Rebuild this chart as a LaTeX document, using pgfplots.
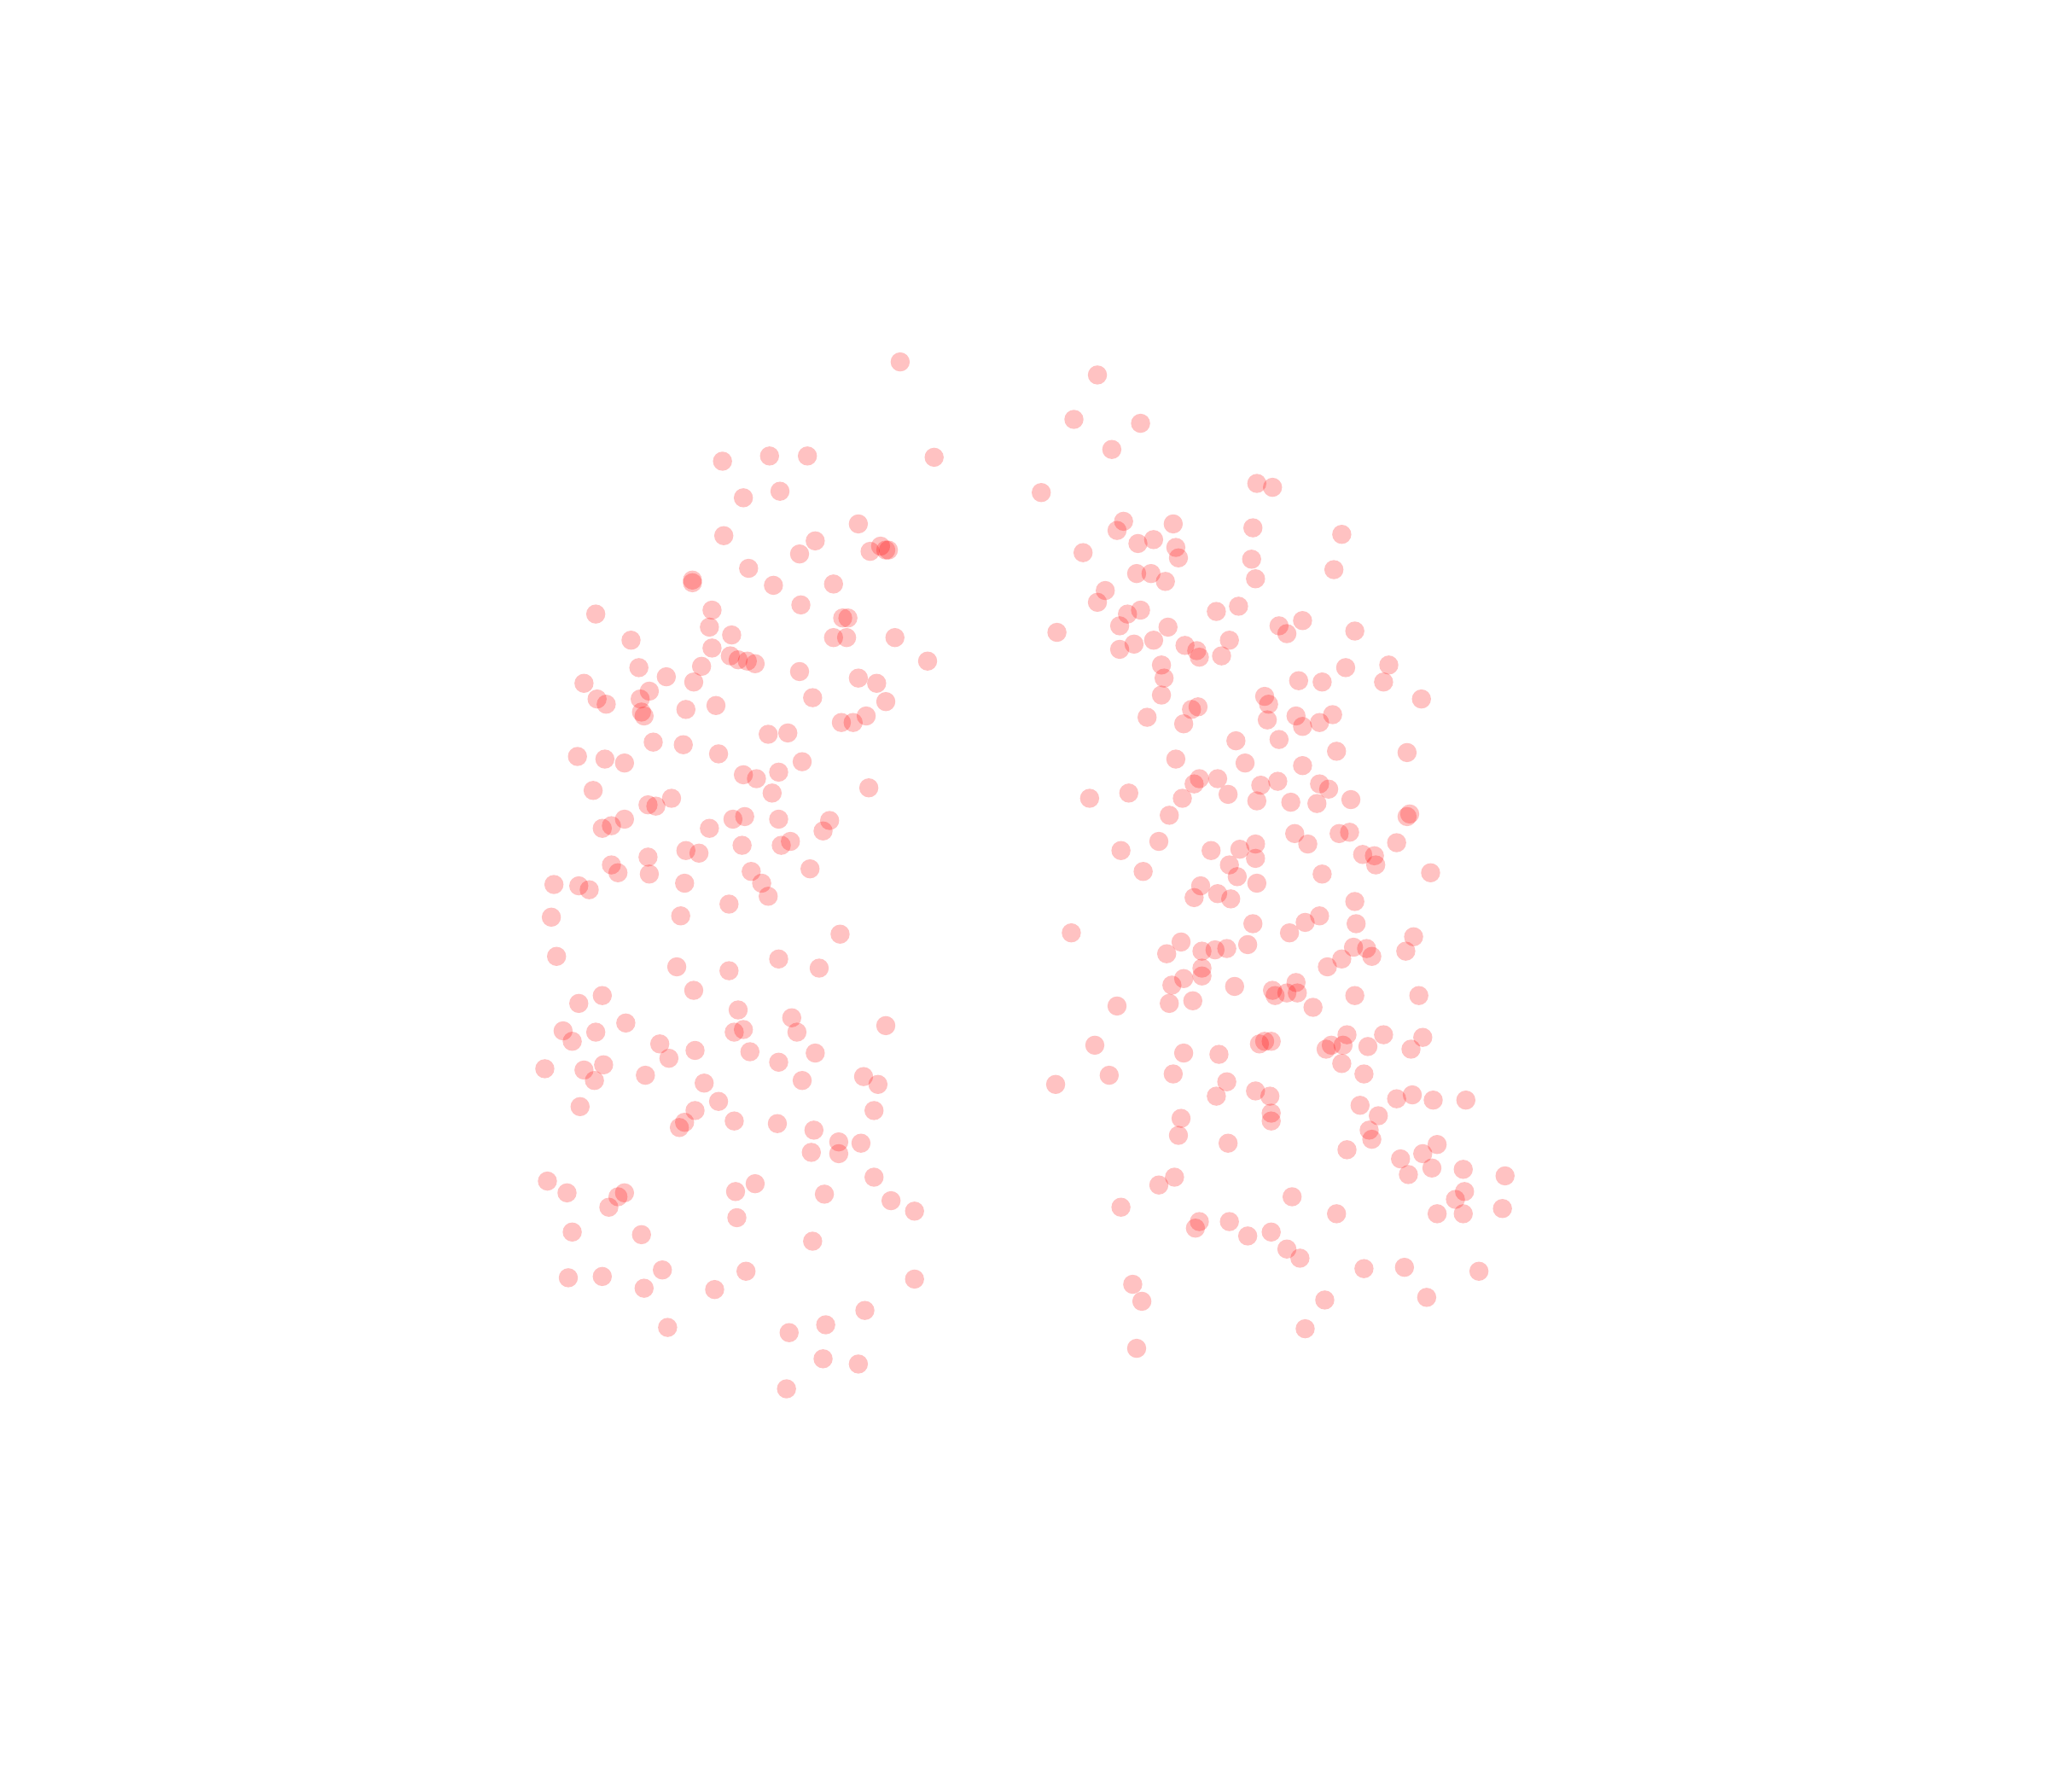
\documentclass[border=0pt]{standalone}
\usepackage{pgfplots}
\pgfplotsset{compat=1.18}
\usepackage{pgfplotstable}

% positions, in its own pixel grid (y grows downwards)
\pgfplotstableread{
x y
689 277
553 353
589 349
618 349
715 350
569 381
597 376
657 401
554 410
624 414
612 424
674 418
678 421
680 421
666 422
573 435
530 444
530 446
592 448
638 447
613 463
456 470
545 467
543 480
560 486
645 473
649 473
483 490
545 496
638 488
648 488
685 488
559 502
565 505
572 506
578 508
710 506
489 511
537 510
612 514
447 523
510 518
531 522
657 519
671 523
457 535
464 539
490 535
497 529
491 545
493 548
525 543
548 540
622 534
678 537
644 553
653 553
663 548
588 562
603 561
500 568
523 570
442 579
463 581
478 584
550 577
614 583
569 593
579 596
596 591
454 605
591 607
665 603
496 616
502 617
514 611
478 627
461 634
468 632
543 634
561 627
570 625
596 627
630 636
635 628
568 647
598 647
605 644
525 651
535 653
496 656
468 662
473 668
497 669
575 667
620 665
424 677
443 678
451 681
524 676
583 676
558 692
588 686
422 702
521 701
426 732
596 734
627 741
643 715
518 740
558 743
531 758
443 768
461 762
565 773
606 779
479 783
431 789
456 790
438 797
562 790
569 788
610 790
678 785
505 799
532 804
574 805
624 806
512 810
596 813
417 818
447 819
462 815
455 827
494 823
539 829
614 827
661 824
672 830
444 847
550 843
532 850
669 850
520 863
524 859
562 858
595 860
623 865
642 874
659 875
621 882
642 883
419 904
434 913
466 924
473 916
478 913
563 912
578 906
631 914
669 901
682 919
700 927
564 932
438 943
491 945
622 950
435 978
461 977
493 986
507 972
547 987
571 973
700 979
511 1016
604 1020
632 1014
662 1003
630 1040
657 1044
602 1063
}\leftgroup

\pgfplotstableread{
x y
840 287
822 321
873 324
851 344
797 377
962 370
974 373
860 399
855 406
898 401
959 404
829 423
871 416
883 413
900 419
902 427
958 428
1027 409
870 439
881 439
892 445
961 443
1021 436
846 452
840 461
863 470
873 467
931 468
948 464
809 484
857 479
979 479
985 485
997 475
1037 483
857 497
868 493
883 490
894 480
907 494
916 498
918 503
935 502
941 490
889 509
891 519
994 521
1012 522
1030 511
1063 509
1059 522
889 532
968 533
971 539
1088 535
878 549
912 543
917 541
906 554
970 551
992 548
997 556
1010 553
1020 547
946 567
979 566
1023 575
1077 576
900 581
953 584
997 586
918 596
914 600
932 596
965 601
978 598
1010 600
1017 604
834 611
864 607
905 611
940 608
962 613
988 614
1008 615
1034 612
895 624
1077 625
1079 623
887 644
991 638
1025 638
1033 637
1001 646
961 646
1069 645
858 651
927 651
949 650
961 657
941 662
1043 654
1052 655
1053 662
875 667
947 671
1012 669
1095 668
919 678
932 684
914 687
942 688
962 676
1037 690
820 714
959 707
987 714
999 706
1010 701
1038 707
1082 717
904 721
893 730
920 728
930 727
939 726
955 723
1036 725
1046 726
1050 732
1076 728
1027 734
1016 740
920 741
906 749
897 754
920 747
945 755
974 758
976 762
985 760
992 752
993 760
1037 762
1086 762
855 770
895 768
913 766
1005 771
838 800
906 806
933 807
964 799
968 797
973 797
1015 803
1019 800
1028 800
1031 792
1047 801
1059 792
1080 803
1089 794
808 830
849 823
898 822
939 828
1027 814
1044 822
931 839
961 835
972 839
1041 846
1069 841
1081 838
1097 842
1122 842
904 856
973 852
973 858
1055 854
902 869
940 875
1048 865
1050 872
1031 880
1072 887
1078 899
1089 883
1096 894
1100 876
1120 895
1152 900
887 907
899 901
989 916
1114 918
1121 912
858 924
1023 929
1100 929
1120 929
1150 925
918 935
915 940
941 935
955 946
973 943
985 956
995 963
1044 971
1075 970
1132 973
867 983
874 996
1014 995
1092 993
999 1017
870 1032
}\rightgroup

\begin{document}
\begin{tikzpicture}
\begin{axis}[
    hide axis,
    scale only axis,
    width=8in, height=7in,
    xmin=0, xmax=1567.6,
    ymin=0, ymax=1371.6,
    y dir=reverse,
    clip=false]
  \addplot[only marks, mark=*, mark size=2.7pt, color=red,
    mark options={line width=0pt, draw opacity=0, fill=red, fill opacity=0.24}]
    table[x=x, y=y] {\leftgroup};
  \addplot[only marks, mark=*, mark size=2.7pt, color=red,
    mark options={line width=0pt, draw opacity=0, fill=red, fill opacity=0.24}]
    table[x=x, y=y] {\rightgroup};
\end{axis}
\pgfresetboundingbox
\path (current axis.south west) rectangle (current axis.north east);
\end{tikzpicture}
\end{document}
